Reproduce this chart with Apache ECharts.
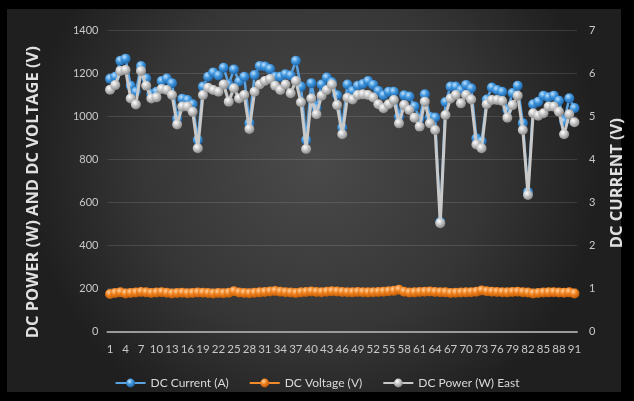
<!DOCTYPE html>
<html>
<head>
<meta charset="utf-8">
<script src="https://cdn.jsdelivr.net/npm/echarts@6/dist/echarts.min.js"></script>
<style>
html,body{margin:0;padding:0;background:#000;}
#c{width:634px;height:401px;}
</style>
</head>
<body>
<div id="c"></div>
<script>
const categories = Array.from({length: 91}, (_, i) => String(i + 1));

const dcCurrent = [5.88,5.93,6.30,6.35,5.72,5.58,6.18,5.89,5.52,5.58,
  5.83,5.89,5.78,4.95,5.42,5.39,5.29,4.46,5.70,5.93,
  6.03,5.96,6.14,5.75,6.10,5.82,5.93,4.85,5.97,6.18,
  6.17,6.11,5.93,5.93,5.99,5.96,6.30,5.70,4.46,5.78,
  5.20,5.75,5.91,5.80,5.50,4.75,5.75,5.60,5.72,5.76,
  5.83,5.74,5.60,5.50,5.58,5.58,5.00,5.50,5.47,5.24,
  4.95,5.52,5.00,4.98,2.55,5.34,5.70,5.70,5.62,5.74,
  5.66,4.50,4.43,5.40,5.68,5.62,5.58,5.15,5.55,5.72,
  4.85,3.25,5.29,5.35,5.49,5.45,5.49,5.37,4.89,5.43,5.20];

const dcVoltage = [175,180,183,178,180,182,185,183,180,182,
  184,181,178,180,181,179,180,182,181,180,
  178,180,179,181,188,182,180,179,181,183,
  185,187,189,186,184,182,180,183,185,187,
  185,184,186,188,187,185,184,183,185,184,
  183,184,185,186,188,190,195,186,182,183,
  185,186,187,185,184,183,180,181,182,183,
  184,186,192,188,186,185,184,183,185,186,
  184,182,178,180,182,183,184,182,181,183,178];

const dcPowerEast = [1125,1147,1213,1217,1085,1057,1213,1144,1085,1090,
  1129,1124,1101,964,1047,1047,1023,853,1101,1135,
  1124,1116,1150,1070,1132,1085,1101,943,1116,1150,
  1166,1175,1144,1124,1150,1109,1166,1067,850,1085,
  1011,1098,1124,1150,1054,918,1088,1080,1101,1104,
  1101,1089,1058,1039,1058,1078,969,1054,1031,995,
  954,1070,969,938,505,1008,1085,1101,1062,1101,
  1080,871,853,1058,1078,1078,1073,995,1054,1098,
  938,636,1016,1005,1016,1047,1047,1023,918,1011,974];

const leftTicks = {min: 0, max: 1400, interval: 200};
const rightTicks = {min: 0, max: 7, interval: 1};

function sphere(light, mid, dark) {
  return new echarts.graphic.RadialGradient(0.38, 0.32, 0.75, [
    {offset: 0, color: light},
    {offset: 0.45, color: mid},
    {offset: 1, color: dark}
  ]);
}

const chart = echarts.init(document.getElementById('c'), null, {renderer: 'canvas'});
const labelFont = 'Lato, "Open Sans", sans-serif';

chart.setOption({
  animation: false,
  backgroundColor: 'transparent',
  graphic: [{
    type: 'rect',
    z: -10,
    silent: true,
    shape: {x: 7, y: 9, width: 614, height: 383},
    style: {
      fill: new echarts.graphic.RadialGradient(0.5, 0.4, 0.75, [
        {offset: 0, color: '#4a4a4a'},
        {offset: 0.6, color: '#363636'},
        {offset: 1, color: '#1f1f1f'}
      ])
    }
  }],
  grid: {left: 107.5, right: 57, top: 30.7, bottom: 69.3},
  legend: {
    top: 372,
    left: 'center',
    itemGap: 20,
    itemWidth: 30,
    itemHeight: 11,
    textStyle: {color: '#d9d9d9', fontSize: 12, fontFamily: labelFont},
    data: ['DC Current (A)', 'DC Voltage (V)', 'DC Power (W) East']
  },
  xAxis: {
    type: 'category',
    data: categories,
    boundaryGap: true,
    axisLine: {lineStyle: {color: '#9a9a9a', width: 2}},
    axisTick: {show: false},
    axisLabel: {interval: 2, color: '#c8c8c8', fontSize: 11.5, fontFamily: labelFont, margin: 12},
    splitLine: {show: false}
  },
  yAxis: [{
    type: 'value',
    min: leftTicks.min, max: leftTicks.max, interval: leftTicks.interval,
    name: 'DC POWER (W) AND DC VOLTAGE (V)',
    nameLocation: 'middle',
    nameRotate: 90,
    nameGap: 66,
    nameTextStyle: {color: '#e0e0e0', fontSize: 16.5, fontWeight: 'bold', fontFamily: '"Open Sans", sans-serif', padding: [0, 22, 0, 0]},
    axisLine: {show: false},
    axisTick: {show: false},
    axisLabel: {color: '#c8c8c8', fontSize: 11, fontFamily: labelFont, margin: 9, formatter: v => String(v)},
    splitLine: {lineStyle: {color: 'rgba(255,255,255,0.12)', width: 1}}
  }, {
    type: 'value',
    position: 'right',
    min: rightTicks.min, max: rightTicks.max, interval: rightTicks.interval,
    name: 'DC CURRENT (V)',
    nameLocation: 'middle',
    nameRotate: 90,
    nameGap: 32,
    nameTextStyle: {color: '#e0e0e0', fontSize: 16.5, fontWeight: 'bold', fontFamily: '"Open Sans", sans-serif', padding: [0, 4, 0, 0]},
    axisLine: {show: false},
    axisTick: {show: false},
    axisLabel: {color: '#c8c8c8', fontSize: 11, fontFamily: labelFont, margin: 12, formatter: v => String(v)},
    splitLine: {show: false}
  }],
  series: [{
    name: 'DC Current (A)',
    type: 'line',
    yAxisIndex: 1,
    data: dcCurrent,
    symbol: 'circle',
    symbolSize: 10,
    showAllSymbol: true,
    z: 2,
    lineStyle: {color: '#5aa3e0', width: 2.5},
    itemStyle: {color: sphere('#bfe2ff', '#3d94dc', '#1b5c9c'), borderWidth: 0}
  }, {
    name: 'DC Voltage (V)',
    type: 'line',
    yAxisIndex: 0,
    data: dcVoltage,
    symbol: 'circle',
    symbolSize: 10,
    showAllSymbol: true,
    z: 3,
    lineStyle: {color: '#f08a2a', width: 2.5},
    itemStyle: {color: sphere('#ffd2a0', '#f07f1a', '#b0560a'), borderWidth: 0}
  }, {
    name: 'DC Power (W) East',
    type: 'line',
    yAxisIndex: 0,
    data: dcPowerEast,
    symbol: 'circle',
    symbolSize: 10,
    showAllSymbol: true,
    z: 4,
    lineStyle: {color: '#c9c9c9', width: 3},
    itemStyle: {color: sphere('#ffffff', '#c4c4c4', '#7f7f7f'), borderWidth: 0}
  }]
});
</script>
</body>
</html>
